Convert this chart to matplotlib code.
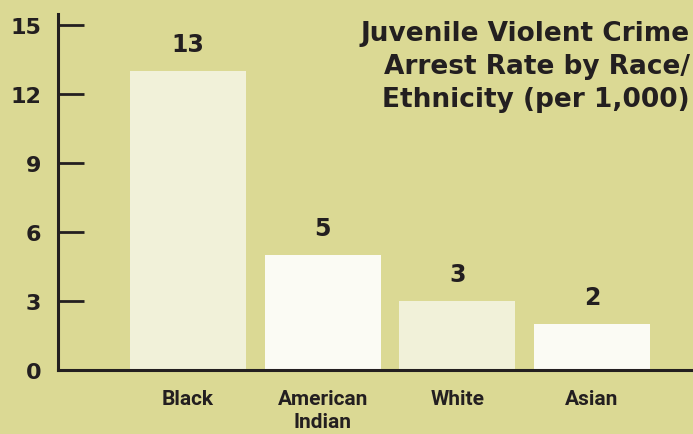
import matplotlib.pyplot as plt

categories = ["Black", "American\nIndian", "White", "Asian"]
rates = [13, 5, 3, 2]
yticks = [0, 3, 6, 9, 12, 15]

bg = "#dbd994"
bar_colors = ["#f1f1d9", "#fbfbf4", "#f1f1d9", "#fbfbf4"]
ink = "#231f20"

fig = plt.figure(figsize=(6.93, 4.35), dpi=100, facecolor=bg)
ax = fig.add_axes([0.0837, 0.147, 0.9163, 0.8195], facecolor=bg)

x = range(len(categories))
ax.bar(x, rates, width=0.86, color=bar_colors, zorder=2)

for xi, v in zip(x, rates):
    ax.annotate(str(v), (xi, v), xytext=(0, 19.5), textcoords="offset points",
                ha="center", va="center", fontsize=17, fontweight="bold", color=ink)

ax.set_xlim(-0.965, 3.75)
ax.set_ylim(0, 15.5)
ax.set_yticks(yticks)
ax.set_yticklabels([str(t) for t in yticks], fontsize=16, fontweight="bold", color=ink)
ax.tick_params(axis="y", direction="in", length=19, width=2, color=ink, pad=12)
ax.set_xticks(list(x))
ax.set_xticklabels(categories, fontsize=15, fontweight="bold", color=ink,
                   family=["Roboto", "DejaVu Sans"], linespacing=1.25)
ax.tick_params(axis="x", length=0, pad=14)

for side in ["top", "right"]:
    ax.spines[side].set_visible(False)
for side in ["left", "bottom"]:
    ax.spines[side].set_linewidth(2.2)
    ax.spines[side].set_color(ink)

ax.text(0.995, 0.952, "Juvenile Violent Crime\nArrest Rate by Race/\nEthnicity (per 1,000)",
        transform=fig.transFigure, ha="right", va="top", fontsize=19,
        fontweight="bold", color=ink, linespacing=1.35)

fig.savefig("out.png", dpi=100, facecolor=bg)
